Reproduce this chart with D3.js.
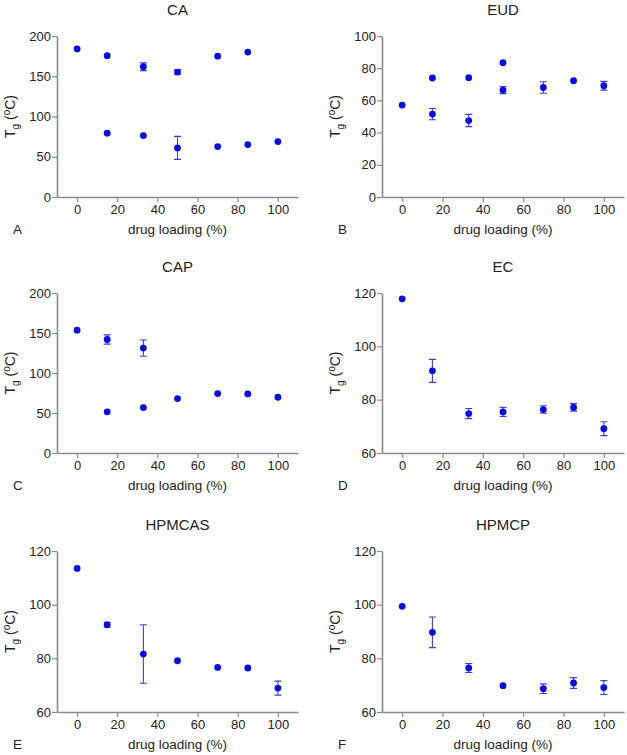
<!DOCTYPE html>
<html>
<head>
<meta charset="utf-8">
<script src="https://cdn.jsdelivr.net/npm/d3@7"></script>
<style>
html,body{margin:0;padding:0;background:#fff;}
svg{display:block;font-family:"Liberation Sans",Arial,sans-serif;}
</style>
</head>
<body>
<svg id="chart" width="627" height="755"></svg>
<script>
// ---- data ----
const panelTitles = ["CA", "EUD", "CAP", "EC", "HPMCAS", "HPMCP"];
const panelLetters = ["A", "B", "C", "D", "E", "F"];
const xTicks = [0, 20, 40, 60, 80, 100];
const yTicksWide = [0, 50, 100, 150, 200];
const yTicksEUD = [0, 20, 40, 60, 80, 100];
const yTicksNarrow = [60, 80, 100, 120];

const caX   = [0, 15, 33, 50, 70, 85, 15, 33, 50, 70, 85, 100];
const caY   = [184, 175.5, 161.8, 155.2, 175, 180, 79.3, 76.3, 61, 62.7, 65.1, 68.9];
const caErr = [0, 0, 4.8, 3.0, 0, 0, 0, 0, 14.3, 0, 0, 0];

const eudX   = [0, 15, 15, 33, 33, 50, 50, 70, 85, 100];
const eudY   = [57.1, 73.9, 51.5, 74.1, 47.5, 83.4, 66.4, 68.0, 72.2, 69.1];
const eudErr = [0, 0, 3.5, 0, 3.8, 0, 2.2, 3.6, 0, 2.7];

const capX   = [0, 15, 33, 15, 33, 50, 70, 85, 100];
const capY   = [153.5, 141.9, 131.1, 51.5, 56.8, 68.0, 74.3, 73.9, 69.7];
const capErr = [0, 5.8, 10.2, 0, 0, 0, 0, 0, 0];

const ecX   = [0, 15, 33, 50, 70, 85, 100];
const ecY   = [117.8, 90.8, 74.8, 75.4, 76.3, 77.1, 69.1];
const ecErr = [0, 4.3, 1.9, 1.7, 1.4, 1.4, 2.6];

const hpmcasX   = [0, 15, 33, 50, 70, 85, 100];
const hpmcasY   = [113.5, 92.5, 81.6, 79.1, 76.6, 76.4, 68.9];
const hpmcasErr = [0, 0.9, 10.9, 0, 0, 0, 2.6];

const hpmcpX   = [0, 15, 33, 50, 70, 85, 100];
const hpmcpY   = [99.4, 89.7, 76.4, 69.8, 68.7, 70.8, 69.1];
const hpmcpErr = [0, 5.7, 1.7, 0, 1.8, 2.0, 2.6];

const xLabel = "drug loading (%)";

// ---- layout ----
const panels = [
  {x: caX, y: caY, e: caErr, yDom: [0, 200], yTicks: yTicksWide},
  {x: eudX, y: eudY, e: eudErr, yDom: [0, 100], yTicks: yTicksEUD},
  {x: capX, y: capY, e: capErr, yDom: [0, 200], yTicks: yTicksWide},
  {x: ecX, y: ecY, e: ecErr, yDom: [60, 120], yTicks: yTicksNarrow},
  {x: hpmcasX, y: hpmcasY, e: hpmcasErr, yDom: [60, 120], yTicks: yTicksNarrow},
  {x: hpmcpX, y: hpmcpY, e: hpmcpErr, yDom: [60, 120], yTicks: yTicksNarrow}
];
const colLeft = [57, 382];
const colRight = [298, 624];
const rowTop = [36, 293, 551];
const rowBottom = [197, 453, 712];

const svg = d3.select("#chart");
const axisColor = "#8a8a8a";
const textColor = "#222";
const dotColor = "#0a0ae6";
const errColor = "#3c3ce0";

panels.forEach((p, i) => {
  const col = i % 2, row = Math.floor(i / 2);
  const x = d3.scaleLinear().domain([-10, 110]).range([colLeft[col], colRight[col]]);
  const y = d3.scaleLinear().domain(p.yDom).range([rowBottom[row], rowTop[row]]);
  const g = svg.append("g");

  // x axis
  const gx = g.append("g").attr("transform", `translate(0,${rowBottom[row]})`)
    .call(d3.axisBottom(x).tickValues(xTicks).tickSize(5).tickPadding(3).tickSizeOuter(0));
  // y axis
  const gy = g.append("g").attr("transform", `translate(${colLeft[col]},0)`)
    .call(d3.axisLeft(y).tickValues(p.yTicks).tickSize(5).tickPadding(1).tickSizeOuter(0));
  [gx, gy].forEach(a => {
    a.select(".domain").attr("stroke", axisColor).attr("stroke-width", 1.6);
    a.selectAll(".tick line").attr("stroke", axisColor).attr("stroke-width", 1.2);
    a.selectAll(".tick text").attr("fill", textColor).attr("font-size", 13)
      .attr("font-family", "Liberation Sans, Arial, sans-serif");
  });

  const pts = p.x.map((xv, k) => ({x: xv, y: p.y[k], e: p.e[k]}));
  const eb = pts.filter(d => d.e > 0);
  const capW = 3.5;
  g.selectAll(".eb").data(eb).enter().append("path")
    .attr("d", d => {
      const cx = x(d.x), y1 = y(d.y + d.e), y2 = y(d.y - d.e);
      return `M${cx},${y1}V${y2}M${cx - capW},${y1}H${cx + capW}M${cx - capW},${y2}H${cx + capW}`;
    })
    .attr("stroke", errColor).attr("stroke-width", 1.1).attr("fill", "none");
  g.selectAll(".dot").data(pts).enter().append("circle")
    .attr("cx", d => x(d.x)).attr("cy", d => y(d.y)).attr("r", 3.4)
    .attr("fill", dotColor);

  const cx = (colLeft[col] + colRight[col]) / 2;
  // title
  g.append("text").attr("x", cx).attr("y", rowTop[row] - 21)
    .attr("text-anchor", "middle").attr("font-size", 15).attr("fill", textColor)
    .text(panelTitles[i]);
  // x label
  g.append("text").attr("x", cx).attr("y", rowBottom[row] + 37)
    .attr("text-anchor", "middle").attr("font-size", 13.5).attr("fill", textColor)
    .text(xLabel);
  // panel letter
  g.append("text").attr("x", colLeft[col] - 44).attr("y", rowBottom[row] + 37)
    .attr("font-size", 13.5).attr("fill", textColor).text(panelLetters[i]);
  // y label
  const ly = (rowTop[row] + rowBottom[row]) / 2;
  const lx = colLeft[col] - 42;
  const yl = g.append("text").attr("transform", `translate(${lx},${ly}) rotate(-90)`)
    .attr("text-anchor", "middle").attr("font-size", 14).attr("fill", textColor);
  yl.append("tspan").text("T");
  yl.append("tspan").attr("font-size", 10).attr("dy", 4).text("g");
  yl.append("tspan").attr("dy", -4).text(" (");
  yl.append("tspan").attr("font-size", 10).attr("dy", -5).text("o");
  yl.append("tspan").attr("dy", 5).text("C)");
});
</script>
</body>
</html>
